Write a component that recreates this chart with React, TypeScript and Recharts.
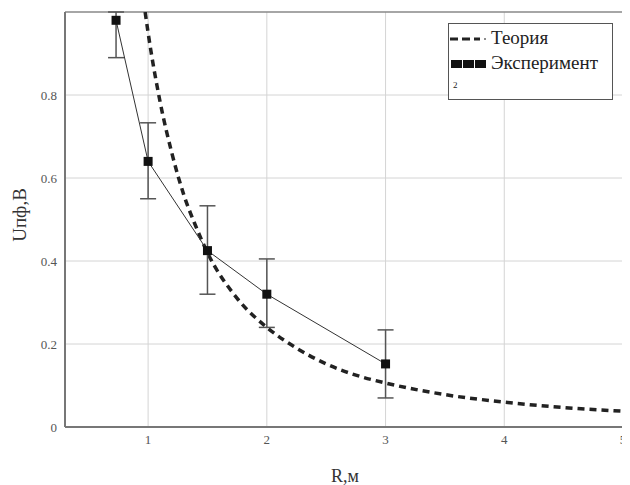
import React from 'react';
import { LineChart, Line, XAxis, YAxis, CartesianGrid, ErrorBar, ReferenceLine, Legend } from 'recharts';

// Теория: кривая
const theoryR = [0.975, 1, 1.1, 1.2, 1.3, 1.4, 1.5, 1.75, 2, 2.25, 2.5, 2.75, 3, 3.5, 4, 4.5, 5];
const theoryU = [1.0, 0.95, 0.785, 0.66, 0.56, 0.485, 0.42, 0.31, 0.24, 0.19, 0.152, 0.125, 0.106, 0.078, 0.06, 0.047, 0.038];

// Эксперимент
const expR = [0.73, 1, 1.5, 2, 3];
const expU = [0.98, 0.64, 0.425, 0.32, 0.152];
const expErrLow = [0.09, 0.09, 0.105, 0.08, 0.082];
const expErrHigh = [0.02, 0.093, 0.108, 0.085, 0.082];

const xTicks = [1, 2, 3, 4, 5];
const yTicks = [0, 0.2, 0.4, 0.6, 0.8];

const theoryData = theoryR.map((r, i) => ({ r, u: theoryU[i] }));
const expData = expR.map((r, i) => ({ r, u: expU[i], err: [expErrLow[i], expErrHigh[i]] }));

const font = '"Liberation Serif", "DejaVu Serif", serif';

const LegendBox = () => (
  <div
    style={{
      position: 'absolute',
      left: 440,
      top: 15,
      width: 165,
      height: 77,
      border: '1px solid #555',
      background: '#fff',
      fontFamily: font,
      fontSize: 19,
      lineHeight: '20px',
      color: '#222',
      boxSizing: 'border-box',
    }}
  >
    <div style={{ position: 'absolute', left: 1, top: 4, display: 'flex', alignItems: 'center' }}>
      <svg width={40} height={16}>
        <line x1={0} y1={9} x2={30} y2={9} stroke="#222" strokeWidth={3} strokeDasharray="8 4" />
        <line x1={34} y1={9} x2={36} y2={9} stroke="#666" strokeWidth={1.5} />
      </svg>
      <span style={{ marginLeft: 1 }}>Теория</span>
    </div>
    <div style={{ position: 'absolute', left: 1, top: 29, display: 'flex', alignItems: 'center' }}>
      <svg width={40} height={16}>
        <rect x={1} y={5} width={11} height={8} fill="#111" />
        <rect x={13} y={5} width={11} height={8} fill="#111" />
        <rect x={25} y={5} width={11} height={8} fill="#111" />
      </svg>
      <span style={{ marginLeft: 1 }}>Эксперимент</span>
    </div>
    <div style={{ position: 'absolute', left: 4, top: 56, fontSize: 9, lineHeight: '10px' }}>2</div>
  </div>
);

export default function App() {
  return (
    <div style={{ width: 622, height: 477 }}>
      <style>{'body{overflow:hidden}'}</style>
      <LineChart width={622} height={477} margin={{ top: 4, right: 7, left: 0, bottom: 0 }} style={{ overflow: 'visible' }}>
        <CartesianGrid stroke="#d4d4d4" horizontalValues={yTicks} verticalValues={xTicks} />
        <XAxis
          dataKey="r"
          type="number"
          domain={[0.3, 5]}
          ticks={xTicks}
          interval={0}
          allowDataOverflow
          height={58}
          stroke="#777"
          strokeWidth={2}
          tickLine={false}
          tick={{ fill: '#555', fontSize: 13, fontFamily: font }}
        />
        <YAxis
          type="number"
          domain={[0, 1]}
          ticks={yTicks}
          interval={0}
          allowDataOverflow
          width={57}
          stroke="#777"
          strokeWidth={2}
          tickLine={false}
          tickFormatter={(v) => (v === 0 ? '0' : String(v))}
          tick={{ fill: '#555', fontSize: 13, fontFamily: font }}
        />
        <ReferenceLine y={1} stroke="#888" strokeWidth={1.5} />
        <ReferenceLine x={5} stroke="#888" strokeWidth={1.5} />
        <Line
          data={theoryData}
          dataKey="u"
          type="monotone"
          stroke="#222"
          strokeWidth={3.5}
          strokeDasharray="7 5"
          dot={false}
          isAnimationActive={false}
        />
        <Line
          data={expData}
          dataKey="u"
          type="linear"
          stroke="#333"
          strokeWidth={1}
          dot={(p: any) => <rect key={p.index} x={p.cx - 4.5} y={p.cy - 4.5} width={9} height={9} fill="#111" />}
          isAnimationActive={false}
        >
          <ErrorBar dataKey="err" direction="y" width={8} stroke="#555" strokeWidth={1.5} />
        </Line>
        <text x={337} y={474} textAnchor="middle" fill="#333" fontSize={18} fontFamily={font}>R,м</text>
        <text x={11} y={207} transform="rotate(-90 11 207)" textAnchor="middle" dominantBaseline="central" fill="#333" fontSize={19} fontFamily={font}>Uпф,В</text>
        <Legend content={() => <LegendBox />} wrapperStyle={{ position: 'absolute', left: 0, top: 0, width: 0, height: 0 }} />
      </LineChart>
    </div>
  );
}
